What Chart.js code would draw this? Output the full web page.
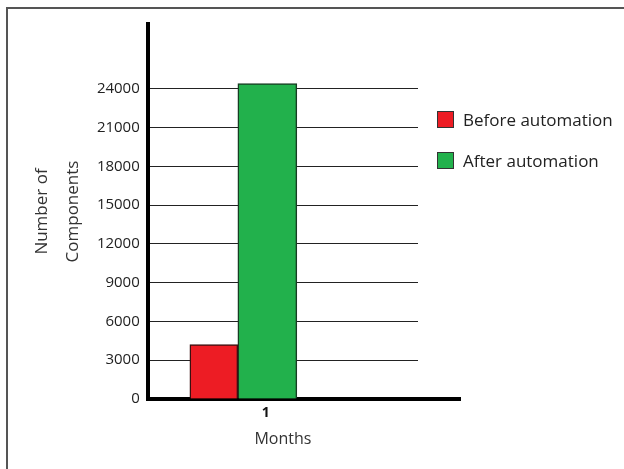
<!DOCTYPE html>
<html>
<head>
<meta charset="utf-8">
<title>Components per month</title>
<script src="https://cdn.jsdelivr.net/npm/chart.js@4/dist/chart.umd.min.js"></script>
<style>
    html, body {
        margin: 0;
        padding: 0;
        background: #ffffff;
    }
    .frame {
        position: relative;
        width: 624px;
        height: 469px;
        overflow: hidden;
    }
    .frame::before {
        content: '';
        position: absolute;
        left: 6px;
        top: 7px;
        width: 640px;
        height: 480px;
        border-left: 2px solid #555;
        border-top: 2px solid #555;
    }
    #chart {
        position: absolute;
        left: 0;
        top: 0;
    }
    #legend {
        position: absolute;
        left: 437px;
        top: 109px;
        font-family: 'Open Sans', sans-serif;
        font-size: 17px;
        color: #222;
    }
    #legend .item {
        display: flex;
        align-items: center;
        height: 20px;
        margin-bottom: 21px;
    }
    #legend .box {
        width: 15px;
        height: 15px;
        margin-right: 9px;
        border: 1px solid #333;
    }
</style>
</head>
<body>
<div class="frame">
    <canvas id="chart" width="624" height="469"></canvas>
    <div id="legend"></div>
</div>
<script>
// Month numbers along the x axis
const months = [1];

// Components produced in each month
const beforeAutomation = [4200];
const afterAutomation = [24400];

// Labelled values on the y axis
const yTickValues = [0, 3000, 6000, 9000, 12000, 15000, 18000, 21000, 24000];

const RED = '#ED1C24';
const GREEN = '#22B14C';

/**
 * Build the HTML legend from the datasets
 */
const htmlLegend = {
    id: 'htmlLegend',
    afterUpdate(chart) {
        const container = document.getElementById('legend');
        container.innerHTML = '';
        chart.data.datasets.forEach(ds => {
            const item = document.createElement('div');
            item.className = 'item';
            const box = document.createElement('span');
            box.className = 'box';
            box.style.background = ds.backgroundColor;
            const text = document.createElement('span');
            text.textContent = ds.label;
            item.appendChild(box);
            item.appendChild(text);
            container.appendChild(item);
        });
    }
};

/**
 * Carry the x axis line a little past the plot area
 */
const axisExtension = {
    id: 'axisExtension',
    afterDraw(chart) {
        const { ctx, chartArea } = chart;
        ctx.save();
        ctx.strokeStyle = '#000';
        ctx.lineWidth = 4;
        ctx.beginPath();
        ctx.moveTo(chartArea.right - 2, chartArea.bottom);
        ctx.lineTo(chartArea.right + 43, chartArea.bottom);
        ctx.stroke();
        ctx.restore();
    }
};

function toPoints(values) {
    return months.map((m, i) => ({ x: m, y: values[i] }));
}

const chart = new Chart(document.getElementById('chart'), {
    type: 'bar',
    data: {
        datasets: [
            {
                label: 'Before automation',
                data: toPoints(beforeAutomation),
                backgroundColor: RED,
                borderColor: '#3a1010',
                borderWidth: 1.5,
                barThickness: 48
            },
            {
                label: 'After automation',
                data: toPoints(afterAutomation),
                backgroundColor: GREEN,
                borderColor: '#173d22',
                borderWidth: 1.5,
                barThickness: 59
            }
        ]
    },
    options: {
        responsive: false,
        animation: false,
        layout: {
            padding: { left: 27, top: 24, right: 206, bottom: 20 }
        },
        plugins: {
            legend: { display: false },
            tooltip: { enabled: false }
        },
        scales: {
            x: {
                type: 'linear',
                offset: false,
                min: 0,
                max: 3,
                afterBuildTicks(scale) {
                    scale.ticks = months.map(m => ({ value: m }));
                },
                grid: { display: false, drawTicks: false, offset: false },
                border: { display: true, color: '#000', width: 4 },
                ticks: {
                    padding: 6,
                    labelOffset: 28,
                    color: '#111',
                    font: { family: 'Open Sans', size: 14, weight: 'bold' }
                },
                title: {
                    display: true,
                    text: 'Months',
                    color: '#333',
                    padding: { top: 2, bottom: 0 },
                    font: { family: 'Open Sans', size: 16 }
                }
            },
            y: {
                min: 0,
                max: 29000,
                afterBuildTicks(scale) {
                    scale.ticks = yTickValues.map(v => ({ value: v }));
                },
                grid: { color: '#222', lineWidth: 1, drawTicks: false },
                border: { display: true, color: '#000', width: 4 },
                ticks: {
                    padding: 8,
                    color: '#222',
                    font: { family: 'Open Sans', size: 15 },
                    callback: value => String(value)
                },
                title: {
                    display: true,
                    text: ['Number of', 'Components'],
                    color: '#333',
                    padding: { top: 0, bottom: 0 },
                    font: { family: 'Open Sans', size: 17, lineHeight: 1.82 }
                }
            }
        }
    },
    plugins: [htmlLegend, axisExtension]
});
</script>
</body>
</html>
